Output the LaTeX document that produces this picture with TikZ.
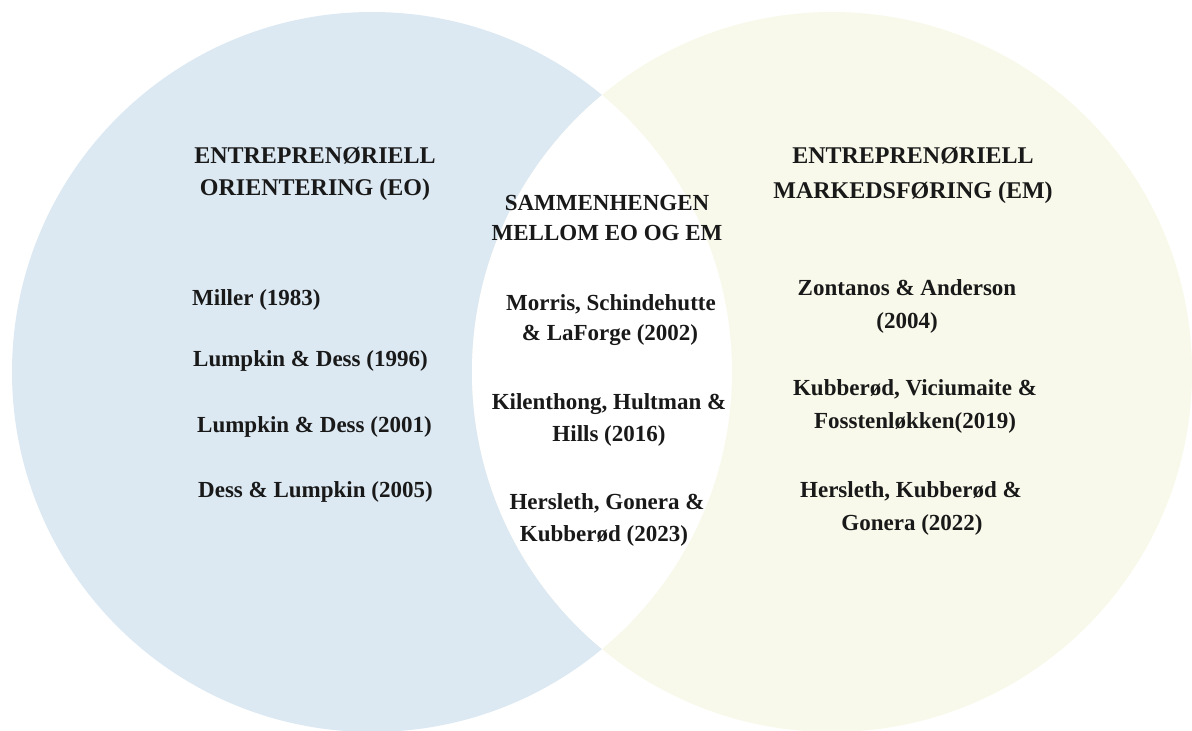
\documentclass[tikz,border=0pt]{standalone}
\usepackage{fontspec}
\setmainfont{Liberation Serif}
\definecolor{eoblue}{HTML}{DCE9F3}
\definecolor{emyellow}{HTML}{F8F9EA}
\begin{document}
\begin{tikzpicture}[x=1pt,y=-1pt,
  txt/.style={inner sep=0pt,anchor=base,font=\fontsize{23}{27}\selectfont\bfseries,text=black!90},
  head/.style={txt,font=\fontsize{24}{28}\selectfont\bfseries},
  lefttxt/.style={txt,anchor=base west}]
\useasboundingbox (0,0) rectangle (1192,731);
\fill[eoblue] (372,372) circle[radius=360];
\fill[emyellow] (832,372) circle[radius=360];
\begin{scope}
  \clip (372,372) circle[radius=360];
  \fill[white] (832,372) circle[radius=360];
\end{scope}
% left heading
\node[head] (eo1) at (315,163) {ENTREPRENØRIELL};
\node[head] (eo2) at (315,195) {ORIENTERING (EO)};
% right heading
\node[head] (em1) at (913,163) {ENTREPRENØRIELL};
\node[head] (em2) at (913,198) {MARKEDSFØRING (EM)};
% middle heading
\node[txt] (mid1) at (607,210) {SAMMENHENGEN};
\node[txt] (mid2) at (607,240) {MELLOM EO OG EM};
% left names
\node[lefttxt] (l1) at (192,305) {Miller (1983)};
\node[lefttxt] (l2) at (193,366) {Lumpkin \& Dess (1996)};
\node[lefttxt] (l3) at (197,432) {Lumpkin \& Dess (2001)};
\node[lefttxt] (l4) at (198,497) {Dess \& Lumpkin (2005)};
% middle names
\node[txt] (m1a) at (611,310) {Morris, Schindehutte};
\node[txt] (m1b) at (610,340) {\& LaForge (2002)};
\node[txt] (m2a) at (609,409) {Kilenthong, Hultman \&};
\node[txt] (m2b) at (609,441) {Hills (2016)};
\node[txt] (m3a) at (607,509) {Hersleth, Gonera \&};
\node[txt] (m3b) at (604,541) {Kubberød (2023)};
% right names
\node[txt] (r1a) at (907,295) {Zontanos \& Anderson};
\node[txt] (r1b) at (907,328) {(2004)};
\node[txt] (r2a) at (915,395) {Kubberød, Viciumaite \&};
\node[txt] (r2b) at (915,428) {Fosstenløkken(2019)};
\node[txt] (r3a) at (911,497) {Hersleth, Kubberød \&};
\node[txt] (r3b) at (912,530) {Gonera (2022)};
\end{tikzpicture}
\end{document}
